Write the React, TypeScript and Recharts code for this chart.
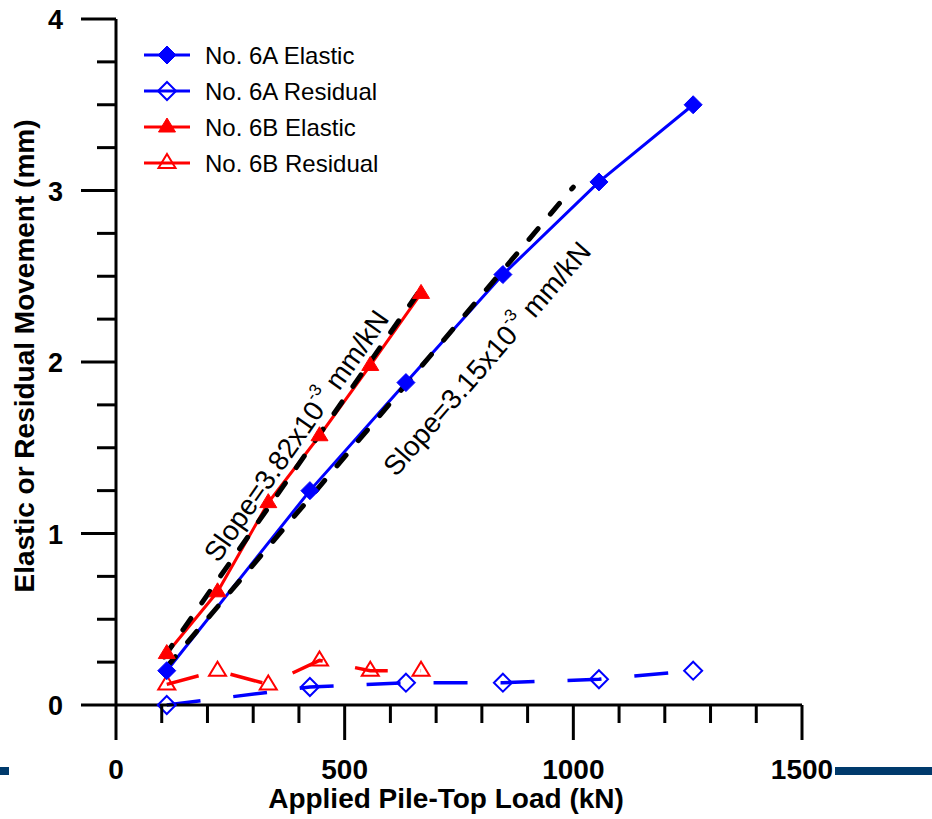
import React from "react";
import {
  LineChart,
  Line,
  XAxis,
  YAxis,
  Legend,
  ReferenceDot,
} from "recharts";

// pile-top load (kN) vs movement (mm)
const load6A = [111, 424, 634, 846, 1056, 1262];
const elastic6A = [0.2, 1.25, 1.88, 2.51, 3.05, 3.5];
const residual6A = [0.0, 0.105, 0.13, 0.13, 0.15, 0.2];

const load6B = [111, 222, 333, 445, 556, 667];
const elastic6B = [0.3, 0.66, 1.18, 1.57, 1.98, 2.4];
const residual6B = [0.12, 0.2, 0.12, 0.26, 0.2, 0.2];

// fitted straight lines (end points)
const fitLoad6A = [110, 1000];
const fitMove6A = [0.22, 3.02];
const fitLoad6B = [105, 660];
const fitMove6B = [0.28, 2.4];

const xTicks = [0, 100, 200, 300, 400, 500, 600, 700, 800, 900, 1000, 1100, 1200, 1300, 1400, 1500];
const yTicks = [0, 0.25, 0.5, 0.75, 1, 1.25, 1.5, 1.75, 2, 2.25, 2.5, 2.75, 3, 3.25, 3.5, 3.75, 4];

const toPoints = (xs: number[], ys: number[]) => xs.map((x, i) => ({ x, y: ys[i] }));

const e6A = toPoints(load6A, elastic6A);
const r6A = toPoints(load6A, residual6A);
const e6B = toPoints(load6B, elastic6B);
const r6B = toPoints(load6B, residual6B);
const f6A = toPoints(fitLoad6A, fitMove6A);
const f6B = toPoints(fitLoad6B, fitMove6B);

const FONT = 'Arial, "Liberation Sans", sans-serif';
const BLUE = "#0000ff";
const RED = "#ff0000";

type Marker = "diamond" | "triangle";

const markerShape = (kind: Marker, filled: boolean, color: string, cx: number, cy: number, key?: any) => {
  const pts =
    kind === "diamond"
      ? `${cx},${cy - 9} ${cx + 9},${cy} ${cx},${cy + 9} ${cx - 9},${cy}`
      : `${cx},${cy - 9} ${cx + 8.5},${cy + 5} ${cx - 8.5},${cy + 5}`;
  return (
    <polygon
      key={key}
      points={pts}
      fill={filled ? color : "none"}
      stroke={color}
      strokeWidth={filled ? 1 : 2}
    />
  );
};

const dot = (kind: Marker, filled: boolean, color: string) => (props: any) =>
  markerShape(kind, filled, color, props.cx, props.cy, props.index);

const legendItems = [
  { name: "No. 6A Elastic", color: BLUE, kind: "diamond" as Marker, filled: true },
  { name: "No. 6A Residual", color: BLUE, kind: "diamond" as Marker, filled: false },
  { name: "No. 6B Elastic", color: RED, kind: "triangle" as Marker, filled: true },
  { name: "No. 6B Residual", color: RED, kind: "triangle" as Marker, filled: false },
];

const LegendBox = () => (
  <svg width={280} height={150}>
    {legendItems.map((it, i) => {
      const y = 19 + i * 36;
      return (
        <g key={it.name}>
          <line x1={4} x2={50} y1={y} y2={y} stroke={it.color} strokeWidth={3} />
          {markerShape(it.kind, it.filled, it.color, 27, y)}
          <text x={65} y={y} dominantBaseline="central" fontFamily={FONT} fontSize={24} fill="#000">
            {it.name}
          </text>
        </g>
      );
    })}
  </svg>
);

const XTick = ({ x, y, payload }: any) => {
  const major = payload.value % 500 === 0;
  return (
    <g>
      <line x1={x} x2={x} y1={y} y2={y + (major ? 35 : 18)} stroke="#000" strokeWidth={3} />
      {major && (
        <text x={x} y={y + 64} textAnchor="middle" dominantBaseline="central" fontFamily={FONT} fontWeight="bold" fontSize={28} fill="#000">
          {payload.value}
        </text>
      )}
    </g>
  );
};

const YTick = ({ x, y, payload }: any) => {
  const major = Number.isInteger(payload.value);
  return (
    <g>
      <line x1={x} x2={x - (major ? 35 : 19)} y1={y} y2={y} stroke="#000" strokeWidth={3} />
      {major && (
        <text x={x - 53} y={y + 1} textAnchor="end" dominantBaseline="central" fontFamily={FONT} fontWeight="bold" fontSize={27} fill="#000">
          {payload.value}
        </text>
      )}
    </g>
  );
};

const XLabel = ({ viewBox }: any) => (
  <text x={viewBox.x + viewBox.width / 2 - 13} y={viewBox.y + 103} textAnchor="middle" fontFamily={FONT} fontWeight="bold" fontSize={28} fill="#000">
    Applied Pile-Top Load (kN)
  </text>
);

const YLabel = ({ viewBox }: any) => {
  const cx = viewBox.x + 24;
  const cy = viewBox.y + viewBox.height / 2 - 6;
  return (
    <text x={cx} y={cy} transform={`rotate(-90, ${cx}, ${cy})`} textAnchor="middle" dominantBaseline="central" fontFamily={FONT} fontWeight="bold" fontSize={28} fill="#000">
      Elastic or Residual Movement (mm)
    </text>
  );
};

const slopeText = (value: string, angle: number) => (props: any) => {
  const { cx, cy } = props;
  return (
    <text x={cx} y={cy} transform={`rotate(${angle}, ${cx}, ${cy})`} textAnchor="middle" dominantBaseline="central" fontFamily={FONT} fontSize={28} fill="#000">
      {`Slope=${value}x10`}
      <tspan dy={-11} fontSize={17}>-3</tspan>
      <tspan dy={11}> mm/kN</tspan>
    </text>
  );
};

export default function App() {
  return (
    <div style={{ position: "absolute", left: 0, top: 0, width: 932, height: 819, background: "#fff" }}>
      <LineChart width={932} height={819} margin={{ top: 19, right: 130, bottom: 0, left: 0 }}>
        <XAxis
          type="number"
          dataKey="x"
          domain={[0, 1500]}
          ticks={xTicks}
          interval={0}
          height={114}
          tickSize={0}
          tickMargin={0}
          tickLine={false}
          axisLine={{ stroke: "#000", strokeWidth: 3 }}
          tick={<XTick />}
          label={<XLabel />}
        />
        <YAxis
          type="number"
          dataKey="y"
          domain={[0, 4]}
          ticks={yTicks}
          interval={0}
          width={116}
          tickSize={0}
          tickMargin={0}
          tickLine={false}
          axisLine={{ stroke: "#000", strokeWidth: 3 }}
          tick={<YTick />}
          label={<YLabel />}
        />
        <Legend
          layout="vertical"
          align="center"
          verticalAlign="middle"
          wrapperStyle={{ left: 140, top: 36, width: 280, height: 150 }}
          content={<LegendBox />}
        />

        {/* residual movement, dashed */}
        <Line data={r6A} dataKey="y" stroke={BLUE} strokeWidth={3.5} strokeDasharray="34 33" dot={dot("diamond", false, BLUE)} isAnimationActive={false} />
        <Line data={r6B} dataKey="y" stroke={RED} strokeWidth={3.5} strokeDasharray="33 33" dot={dot("triangle", false, RED)} isAnimationActive={false} />

        {/* elastic movement lines */}
        <Line data={e6A} dataKey="y" stroke={BLUE} strokeWidth={3} dot={false} isAnimationActive={false} />
        <Line data={e6B} dataKey="y" stroke={RED} strokeWidth={3} dot={false} isAnimationActive={false} />

        {/* linear fits */}
        <Line data={f6A} dataKey="y" stroke="#000" strokeWidth={5} strokeDasharray="14 19" strokeLinecap="round" dot={false} isAnimationActive={false} />
        <Line data={f6B} dataKey="y" stroke="#000" strokeWidth={5} strokeDasharray="14 19" strokeLinecap="round" dot={false} isAnimationActive={false} />

        {/* elastic markers on top of the fit lines */}
        <Line data={e6A} dataKey="y" stroke="none" dot={dot("diamond", true, BLUE)} isAnimationActive={false} />
        <Line data={e6B} dataKey="y" stroke="none" dot={dot("triangle", true, RED)} isAnimationActive={false} />

        <ReferenceDot x={394} y={1.57} r={1} shape={slopeText("3.82", -55)} />
        <ReferenceDot x={811} y={2.02} r={1} shape={slopeText("3.15", -49)} />
      </LineChart>
      <div style={{ position: "absolute", left: 0, top: 767, width: 9, height: 8, background: "#003a6c" }} />
      <div style={{ position: "absolute", left: 835, top: 767, width: 97, height: 8, background: "#003a6c" }} />
    </div>
  );
}
